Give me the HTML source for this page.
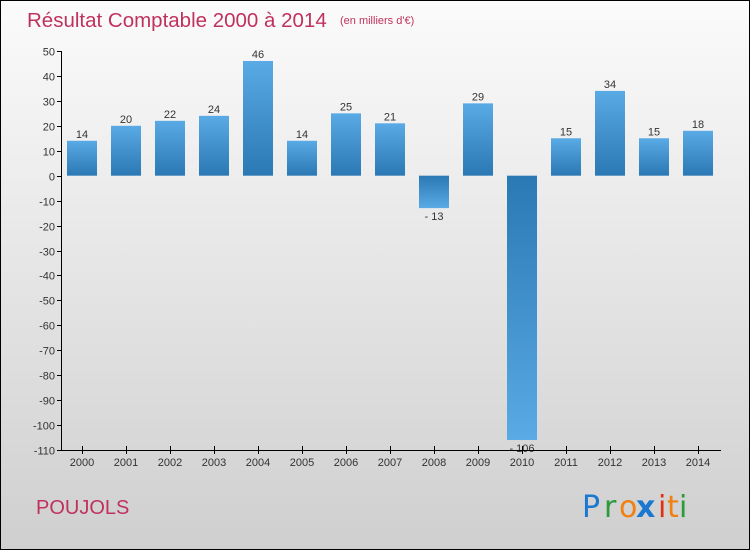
<!DOCTYPE html>
<html><head><meta charset="utf-8"><style>
body{margin:0}
svg{display:block;font-family:"Liberation Sans","DejaVu Sans",sans-serif}
</style></head><body>
<svg id="c" width="750" height="550" xmlns="http://www.w3.org/2000/svg">
<defs>
<linearGradient id="bg" x1="0" y1="0" x2="0" y2="1"><stop offset="0" stop-color="#fbfbfb"/><stop offset="1" stop-color="#cfcfcf"/></linearGradient>
<linearGradient id="gp" x1="0" y1="0" x2="0" y2="1"><stop offset="0" stop-color="#5aaae6"/><stop offset="1" stop-color="#2a78b4"/></linearGradient>
<linearGradient id="gn" x1="0" y1="0" x2="0" y2="1"><stop offset="0" stop-color="#2a78b4"/><stop offset="1" stop-color="#5aaae6"/></linearGradient>
</defs>
<rect x="0.5" y="0.5" width="749" height="549" fill="url(#bg)" stroke="#000"/>
<text x="27" y="27" font-size="20.5" fill="#c0325e">Résultat Comptable 2000 à 2014</text>
<text x="340" y="24" font-size="11" fill="#c0325e">(en milliers d'€)</text>
<text x="36" y="514" font-size="20" fill="#c0325e">POUJOLS</text>
<g font-size="30" font-family="'DejaVu Sans',sans-serif">
<text x="582" y="517" fill="#1a78d0">P</text><text x="604" y="517" fill="#2a9a3a">r</text><text x="619" y="517" fill="#f08010">o</text><text x="636" y="517" fill="#1a78d0" font-weight="bold">x</text><text x="658" y="517" fill="#e03010">i</text><text x="667" y="517" fill="#f08010">t</text><text x="679" y="517" fill="#2a9a3a">i</text>
</g>
<g id="plot"></g>
</svg>
<script>
const categories=["2000","2001","2002","2003","2004","2005","2006","2007","2008","2009","2010","2011","2012","2013","2014"];
const values=[14,20,22,24,46,14,25,21,-13,29,-106,15,34,15,18];
const yTicks=[50,40,30,20,10,0,-10,-20,-30,-40,-50,-60,-70,-80,-90,-100,-110];
const NS="http://www.w3.org/2000/svg";
const plotG=document.getElementById('plot');
const yMin=-110,yMax=50,plotTop=51,plotBot=450;
const yS=v=>plotBot-(v-yMin)/(yMax-yMin)*(plotBot-plotTop);
const xS=i=>82+i*44;
function mk(t,a,txt){const e=document.createElementNS(NS,t);for(const k in a)e.setAttribute(k,a[k]);if(txt!==undefined)e.textContent=txt;plotG.appendChild(e);return e;}
yTicks.forEach(t=>{
 const yy=Math.round(yS(t))+0.5;
 mk('line',{x1:57,y1:yy,x2:61.5,y2:yy,stroke:'#000'});
 const l=mk('text',{x:55,y:yy+4,'font-size':11,fill:'#333','text-anchor':'end'},String(t));
 
 
});
categories.forEach((c,i)=>{
 const v=values[i];
 const y0=yS(0),y1=yS(v);
 const r=mk('rect',{x:xS(i)-15,y:Math.min(y0,y1),width:30,height:Math.abs(y1-y0),fill:v>=0?'url(#gp)':'url(#gn)'});
 
 
 const ly=v>=0?y1-3:y1+12;
 const lb=mk('text',{x:xS(i),y:ly,'font-size':11,fill:'#333','text-anchor':'middle'},v>=0?String(v):'- '+Math.abs(v));
 
 
 mk('line',{x1:xS(i)+0.5,y1:plotBot-4,x2:xS(i)+0.5,y2:plotBot+4,stroke:'#000'});
 const xl=mk('text',{x:xS(i),y:466,'font-size':11,fill:'#333','text-anchor':'middle'},c);
 
 
});
const ax=mk('line',{x1:61.5,y1:plotTop,x2:61.5,y2:plotBot,stroke:'#000'});


const xa=mk('line',{x1:61.5,y1:plotBot+0.5,x2:721,y2:plotBot+0.5,stroke:'#000'});


</script>
</body></html>
